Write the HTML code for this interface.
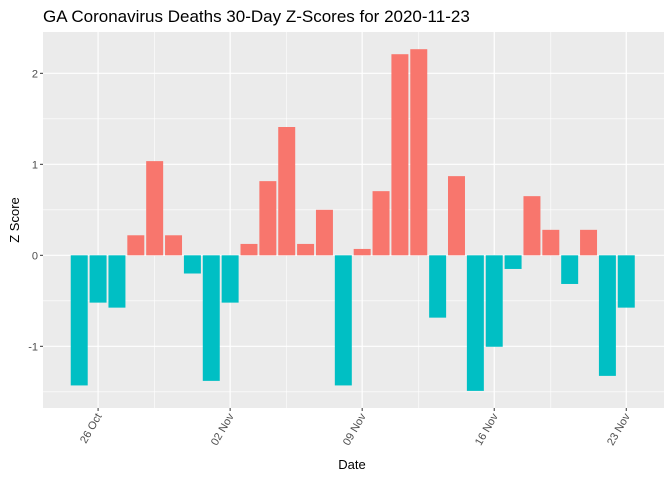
<!DOCTYPE html>
<html><head><meta charset="utf-8">
<style>
body{margin:0;background:#fff;}
svg{display:block;font-family:"Liberation Sans",Arial,sans-serif;}
</style></head>
<body>
<svg id="chart" width="672" height="480" xmlns="http://www.w3.org/2000/svg">
<text x="43" y="22" font-size="17" fill="#000">GA Coronavirus Deaths 30-Day Z-Scores for 2020-11-23</text>
<rect x="43" y="32" width="621" height="376" fill="#ebebeb"/>
<g id="grid"></g>
<g id="bars"></g>
<g id="axes"></g>
<text x="352" y="469" font-size="13" text-anchor="middle" fill="#000">Date</text>
<text transform="translate(19,220) rotate(-90)" font-size="13" text-anchor="middle" fill="#000">Z Score</text>
</svg>
<script>
const dates = ["2020-10-25","2020-10-26","2020-10-27","2020-10-28","2020-10-29","2020-10-30","2020-10-31","2020-11-01","2020-11-02","2020-11-03","2020-11-04","2020-11-05","2020-11-06","2020-11-07","2020-11-08","2020-11-09","2020-11-10","2020-11-11","2020-11-12","2020-11-13","2020-11-14","2020-11-15","2020-11-16","2020-11-17","2020-11-18","2020-11-19","2020-11-20","2020-11-21","2020-11-22","2020-11-23"];
const zScores = [-1.43,-0.52,-0.575,0.22,1.035,0.22,-0.2,-1.38,-0.52,0.125,0.815,1.41,0.125,0.5,-1.43,0.07,0.705,2.21,2.265,-0.685,0.87,-1.49,-1.005,-0.15,0.65,0.28,-0.315,0.28,-1.325,-0.575];
const yTicks = [-1,0,1,2];
const yMinor = [-1.5,-0.5,0.5,1.5];
const xTickDates = ["2020-10-26","2020-11-02","2020-11-09","2020-11-16","2020-11-23"];
const xTickLabels = ["26 Oct","02 Nov","09 Nov","16 Nov","23 Nov"];
const xMinorDates = ["2020-10-29","2020-11-05","2020-11-12","2020-11-19"];

const NS="http://www.w3.org/2000/svg";
const PL=43,PR=664,PT=32,PB=408;
const base=Date.UTC(2020,9,25);
function dayOf(s){const p=s.split('-');return (Date.UTC(+p[0],+p[1]-1,+p[2])-base)/86400000;}
const xMin=-1.92,xMax=31.0,yMin=-1.678,yMax=2.454;
function xs(d){return PL+(d-xMin)/(xMax-xMin)*(PR-PL);}
function ys(v){return PB-(v-yMin)/(yMax-yMin)*(PB-PT);}
function mk(tag,attrs,parent){const e=document.createElementNS(NS,tag);for(const k in attrs)e.setAttribute(k,attrs[k]);parent.appendChild(e);return e;}
const grid=document.getElementById('grid'),bars=document.getElementById('bars'),axes=document.getElementById('axes');
yMinor.forEach(v=>{const l=mk('line',{x1:PL,x2:PR,y1:ys(v),y2:ys(v),stroke:'#fff','stroke-width':0.6},grid);

});
xMinorDates.forEach(s=>{const x=xs(dayOf(s));const l=mk('line',{x1:x,x2:x,y1:PT,y2:PB,stroke:'#fff','stroke-width':0.6},grid);

});
yTicks.forEach(v=>{const y=ys(v);const l=mk('line',{x1:PL,x2:PR,y1:y,y2:y,stroke:'#fff','stroke-width':1.2},grid);


const t=mk('line',{x1:PL-3,x2:PL,y1:y,y2:y,stroke:'#333','stroke-width':1},axes);


const tx=mk('text',{x:PL-5,y:y+4,'font-size':11,'text-anchor':'end',fill:'#4d4d4d'},axes);tx.textContent=v;

});
xTickDates.forEach((s,i)=>{const x=xs(dayOf(s));const l=mk('line',{x1:x,x2:x,y1:PT,y2:PB,stroke:'#fff','stroke-width':1.2},grid);


const t=mk('line',{x1:x,x2:x,y1:PB,y2:PB+3,stroke:'#333','stroke-width':1},axes);


const tx=mk('text',{transform:`translate(${x+4},${PB+8}) rotate(-60)`,'font-size':11,'text-anchor':'end',fill:'#4d4d4d'},axes);tx.textContent=xTickLabels[i];

});
const bw=(PR-PL)/(xMax-xMin)*0.9;
dates.forEach((s,i)=>{const v=zScores[i];const x=xs(dayOf(s));const y0=ys(0),y1=ys(v);
const r=mk('rect',{x:x-bw/2,y:Math.min(y0,y1),width:bw,height:Math.abs(y1-y0),fill:v>=0?'#f8766d':'#00bfc4'},bars);

});
</script>
</body></html>
